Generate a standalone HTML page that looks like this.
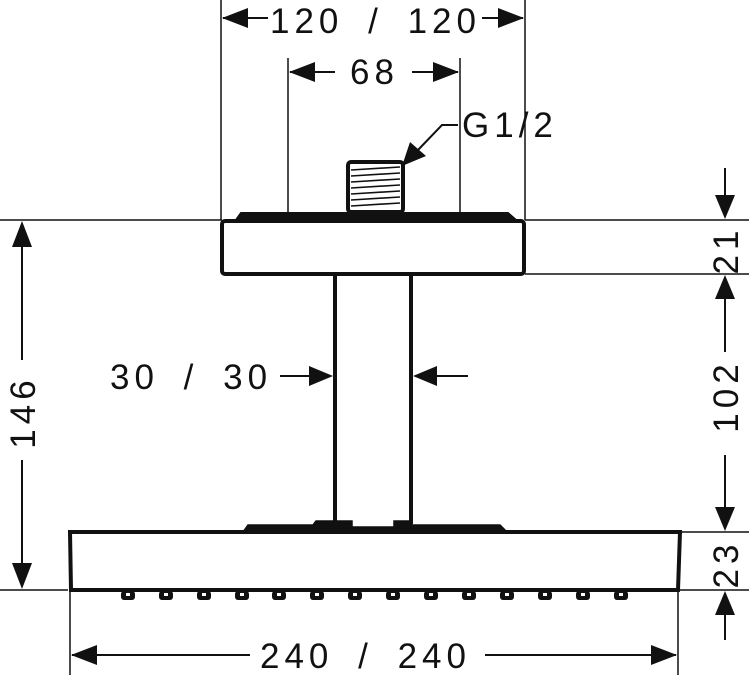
<!DOCTYPE html>
<html><head><meta charset="utf-8"><style>
html,body{margin:0;padding:0;background:#fff}
svg{display:block}
text{font-family:"Liberation Sans",sans-serif;font-size:35px;fill:#111;letter-spacing:5px;word-spacing:10px}
</style></head><body>
<svg width="749" height="675" viewBox="0 0 749 675" xmlns="http://www.w3.org/2000/svg">
<g stroke="#111" stroke-width="1.5" fill="none">
<line x1="221" y1="0" x2="221" y2="220"/>
<line x1="525" y1="0" x2="525" y2="220"/>
<line x1="288" y1="58" x2="288" y2="212"/>
<line x1="460" y1="58" x2="460" y2="212"/>
<line x1="0" y1="220" x2="222" y2="220"/>
<line x1="525" y1="220" x2="749" y2="220"/>
<line x1="525" y1="274" x2="749" y2="274"/>
<line x1="678" y1="532" x2="749" y2="532"/>
<line x1="0" y1="590" x2="68" y2="590"/>
<line x1="678" y1="590" x2="749" y2="590"/>
<line x1="70" y1="590" x2="70" y2="675"/>
<line x1="678" y1="590" x2="678" y2="675"/>
</g>
<g fill="#111">
<line x1="268" y1="18" x2="223" y2="18" stroke="#111" stroke-width="2"/>
<path d="M222,18 L248,8 L248,28z"/>
<line x1="482" y1="18" x2="523" y2="18" stroke="#111" stroke-width="2"/>
<path d="M524,18 L498,8 L498,28z"/>
<text x="270" y="33">120 / 120</text>
<line x1="290" y1="72" x2="335" y2="72" stroke="#111" stroke-width="2"/>
<path d="M289,72 L315,62 L315,82z"/>
<line x1="412" y1="72" x2="458" y2="72" stroke="#111" stroke-width="2"/>
<path d="M459,72 L433,62 L433,82z"/>
<text x="350" y="84">68</text>
<text x="462" y="137">G1/2</text>
<polyline points="458,125 442,125 418,150" stroke="#111" stroke-width="2" fill="none"/>
<path d="M402,166 L410,142 L426,156z"/>
<line x1="22" y1="240" x2="22" y2="360" stroke="#111" stroke-width="2"/>
<line x1="22" y1="460" x2="22" y2="570" stroke="#111" stroke-width="2"/>
<path d="M22,221 L12,247 L32,247z"/>
<path d="M22,589 L12,563 L32,563z"/>
<text transform="translate(35,412) rotate(-90)" text-anchor="middle">146</text>
<line x1="725" y1="168" x2="725" y2="200" stroke="#111" stroke-width="2"/>
<path d="M725,219 L715,195 L735,195z"/>
<text transform="translate(738,250) rotate(-90)" text-anchor="middle">21</text>
<path d="M725,275 L715,299 L735,299z"/>
<line x1="725" y1="295" x2="725" y2="352" stroke="#111" stroke-width="2"/>
<text transform="translate(738,396) rotate(-90)" text-anchor="middle">102</text>
<line x1="725" y1="455" x2="725" y2="512" stroke="#111" stroke-width="2"/>
<path d="M725,531 L715,507 L735,507z"/>
<text transform="translate(738,564) rotate(-90)" text-anchor="middle">23</text>
<path d="M725,591 L715,615 L735,615z"/>
<line x1="725" y1="610" x2="725" y2="640" stroke="#111" stroke-width="2"/>
<text x="110" y="389">30 / 30</text>
<line x1="280" y1="376" x2="315" y2="376" stroke="#111" stroke-width="2"/>
<path d="M333,376 L309,366 L309,386z"/>
<line x1="430" y1="376" x2="468" y2="376" stroke="#111" stroke-width="2"/>
<path d="M413,376 L437,366 L437,386z"/>
<line x1="72" y1="655" x2="250" y2="655" stroke="#111" stroke-width="2"/>
<path d="M71,655 L97,645 L97,665z"/>
<line x1="485" y1="655" x2="676" y2="655" stroke="#111" stroke-width="2"/>
<path d="M677,655 L651,645 L651,665z"/>
<text x="260" y="668">240 / 240</text>
</g>
<g stroke="#111" fill="none">
<rect x="348" y="162" width="55" height="50" rx="3" stroke-width="4" fill="#fff"/>
<g stroke-width="1.6">
<line x1="351" y1="170" x2="400" y2="167"/><line x1="351" y1="176" x2="400" y2="173"/>
<line x1="351" y1="182" x2="400" y2="179"/><line x1="351" y1="188" x2="400" y2="185"/>
<line x1="351" y1="194" x2="400" y2="191"/><line x1="351" y1="200" x2="400" y2="197"/>
<line x1="351" y1="206" x2="400" y2="203"/>
</g>
<path d="M236,220 L241,213 L508,213 L516,220z" fill="#111" stroke-width="2"/>
<rect x="222" y="221" width="302" height="53" rx="3" stroke-width="4" fill="#fff"/>
<line x1="335" y1="276" x2="335" y2="524" stroke-width="4"/>
<line x1="411" y1="276" x2="411" y2="524" stroke-width="4"/>
<path d="M243,532 L248,525 L313,525 L316,521 L352,521 L352,527 L394,527 L394,521 L410,521 L412,525 L500,525 L507,532z" fill="#111" stroke-width="1.5"/>
<path d="M70,532 L680,532 L678,590 L71,590z" stroke-width="4" fill="#fff"/>
</g>
<g fill="#111">
<rect x="121" y="591" width="14" height="9" rx="3"/>
<rect x="159" y="591" width="14" height="9" rx="3"/>
<rect x="197" y="591" width="14" height="9" rx="3"/>
<rect x="235" y="591" width="14" height="9" rx="3"/>
<rect x="272" y="591" width="14" height="9" rx="3"/>
<rect x="310" y="591" width="14" height="9" rx="3"/>
<rect x="348" y="591" width="14" height="9" rx="3"/>
<rect x="386" y="591" width="14" height="9" rx="3"/>
<rect x="424" y="591" width="14" height="9" rx="3"/>
<rect x="462" y="591" width="14" height="9" rx="3"/>
<rect x="500" y="591" width="14" height="9" rx="3"/>
<rect x="538" y="591" width="14" height="9" rx="3"/>
<rect x="576" y="591" width="14" height="9" rx="3"/>
<rect x="614" y="591" width="14" height="9" rx="3"/>
</g>
<g fill="#fff">
<rect x="126" y="593" width="4" height="3"/><rect x="164" y="593" width="4" height="3"/><rect x="202" y="593" width="4" height="3"/><rect x="240" y="593" width="4" height="3"/><rect x="277" y="593" width="4" height="3"/><rect x="315" y="593" width="4" height="3"/><rect x="353" y="593" width="4" height="3"/><rect x="391" y="593" width="4" height="3"/><rect x="429" y="593" width="4" height="3"/><rect x="467" y="593" width="4" height="3"/><rect x="505" y="593" width="4" height="3"/><rect x="543" y="593" width="4" height="3"/><rect x="581" y="593" width="4" height="3"/><rect x="619" y="593" width="4" height="3"/>
</g>
</svg>
</body></html>
